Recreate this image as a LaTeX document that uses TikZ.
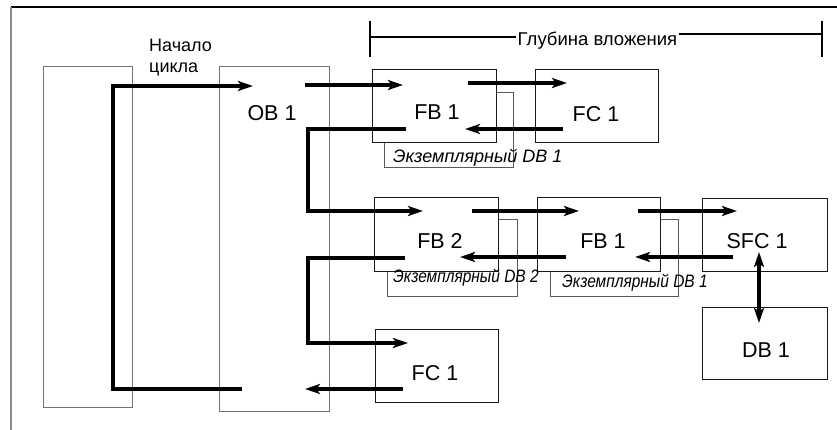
\documentclass[tikz,border=0pt]{standalone}
\usepackage{fontspec}
\setmainfont{Liberation Sans}
\usetikzlibrary{arrows.meta}
\begin{document}
\begin{tikzpicture}[x=1pt,y=-1pt,
  blk/.style={draw=black!90, line width=0.9pt, fill=white, inner sep=0pt, anchor=north west},
  big/.style={blk, draw=black!55},
  inst/.style={draw=black!65, line width=0.9pt, inner sep=0pt, anchor=north west},
  lbl/.style={font=\fontsize{21.5}{25}\selectfont, inner sep=0pt},
  itxt/.style={font=\fontsize{18}{21}\selectfont\itshape, inner sep=0pt, anchor=base west},
  flowline/.style={line width=3.2pt},
  flow/.style={flowline, -{Stealth[length=15pt,width=10pt,inset=3.5pt]}},
  both/.style={flowline, {Stealth[length=15pt,width=10pt,inset=3.5pt]}-{Stealth[length=15pt,width=10pt,inset=3.5pt]}},
  bracket/.style={line width=2.6pt}
]
\useasboundingbox (0,0) rectangle (837,430);
% frame
\draw[black, line width=1.5pt] (11,7) -- (837,7);
\draw[black!45, line width=1.6pt] (11,7) -- (11,430);

% big boxes
\node[big, minimum width=89pt, minimum height=341pt] (cyc) at (43,66) {};
\node[big, minimum width=110pt, minimum height=345pt] (ob1box) at (219,66) {};

% instance DB boxes (behind)
\node[inst, minimum width=129pt, minimum height=75pt] (inst1a) at (384,92) {};
\node[inst, minimum width=130pt, minimum height=77pt] (inst2) at (387,219) {};
\node[inst, minimum width=128pt, minimum height=77pt] (inst1b) at (550,219) {};

% block boxes
\node[blk, minimum width=124pt, minimum height=73pt] (fb1a) at (372,69) {};
\node[blk, minimum width=123pt, minimum height=73pt] (fc1a) at (535,69) {};
\node[blk, minimum width=124pt, minimum height=74pt] (fb2) at (374,197) {};
\node[blk, minimum width=123pt, minimum height=74pt] (fb1b) at (537,197) {};
\node[blk, minimum width=125pt, minimum height=73pt] (sfc1) at (702,198) {};
\node[blk, minimum width=125pt, minimum height=72pt] (db1) at (702,307) {};
\node[blk, minimum width=123pt, minimum height=73pt] (fc1b) at (375,329) {};

% labels
\node[lbl] (ob1) at (272,113) {OB 1};
\node[lbl] (fb1alb) at (437,112) {FB 1};
\node[lbl] (fc1alb) at (596,114) {FC 1};
\node[lbl] (fb2lb) at (440,241) {FB 2};
\node[lbl] (fb1blb) at (603,241) {FB 1};
\node[lbl] (sfc1lb) at (757,241) {SFC 1};
\node[lbl] (db1lb) at (766,350) {DB 1};
\node[lbl] (fc1blb) at (435,373) {FC 1};

\node[font=\fontsize{18}{21}\selectfont, align=left, anchor=north west, inner sep=0pt] (start) at (149,39.3) {Начало\\цикла};

\node[itxt] (inst1atxt) at (393,163) {Экземплярный DB 1};
\node[itxt] (inst2txt) at (393,282) {\scalebox{0.86}[1]{Экземплярный DB 2}};
\node[itxt] (inst1btxt) at (562,287) {\scalebox{0.86}[1]{Экземплярный DB 1}};

% nesting depth bracket
\node[font=\fontsize{18.5}{21}\selectfont, inner sep=2pt, anchor=base] (depth) at (597.5,46) {Глубина вложения};
\coordinate (brL) at (370,37);
\coordinate (brR) at (822,34);
\draw[bracket] (370,21) -- (370,57);
\draw[bracket] (822,21) -- (822,57);
\draw[bracket] (brL) -- (brL -| depth.west);
\draw[bracket] (depth.east |- brR) -- (brR);

% flow coordinates
\coordinate (lpA) at (242,389);
\coordinate (lpB) at (113,389);
\coordinate (lpC) at (113,86);
\coordinate (lpD) at (253,86);
\coordinate (o2fA) at (305,85);
\coordinate (o2fB) at (403,85);
\coordinate (f2cA) at (468,83);
\coordinate (f2cB) at (567,83);
\coordinate (c2fA) at (563,129);
\coordinate (c2fB) at (465,129);
\coordinate (r1A) at (406,129);
\coordinate (r1B) at (308,129);
\coordinate (r1C) at (308,211);
\coordinate (r1D) at (423,211);
\coordinate (b2fA) at (472,211);
\coordinate (b2fB) at (579,211);
\coordinate (b2sA) at (638,211);
\coordinate (b2sB) at (737,211);
\coordinate (s2bA) at (733,257);
\coordinate (s2bB) at (635,257);
\coordinate (b2bA) at (566,257);
\coordinate (b2bB) at (460,257);
\coordinate (r2A) at (405,258);
\coordinate (r2B) at (308,258);
\coordinate (r2C) at (308,343);
\coordinate (r2D) at (408,343);
\coordinate (c2oA) at (403,389);
\coordinate (c2oB) at (305,389);
\coordinate (sdA) at (759,252);
\coordinate (sdB) at (759,323);

\draw[flow] (lpA) -- (lpB) -- (lpC) -- (lpD);
\draw[flow] (o2fA) -- (o2fB);
\draw[flow] (f2cA) -- (f2cB);
\draw[flow] (c2fA) -- (c2fB);
\draw[flow] (r1A) -- (r1B) -- (r1C) -- (r1D);
\draw[flow] (b2fA) -- (b2fB);
\draw[flow] (b2sA) -- (b2sB);
\draw[flow] (s2bA) -- (s2bB);
\draw[flow] (b2bA) -- (b2bB);
\draw[flow] (r2A) -- (r2B) -- (r2C) -- (r2D);
\draw[flow] (c2oA) -- (c2oB);
\draw[both] (sdA) -- (sdB);
\end{tikzpicture}
\end{document}
